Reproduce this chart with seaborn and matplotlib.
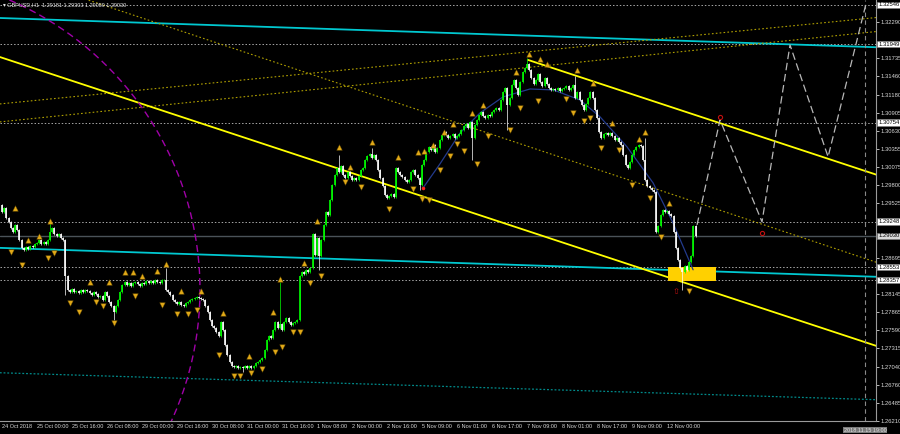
import numpy as np
import pandas as pd
import matplotlib
matplotlib.use('Agg')
import matplotlib.pyplot as plt
import matplotlib.transforms as mtransforms
from matplotlib.patches import Rectangle
import seaborn as sns

# GBPUSD H1 closes, bar 0 = 24 Oct 2018 08:00
closes = [
    1.29395, 1.29456, 1.29304, 1.29243, 1.29152, 1.29091, 1.29197, 1.29122, 1.28969, 1.28847,
    1.28817, 1.28863, 1.28832, 1.28878, 1.28863, 1.28908, 1.28924, 1.28969, 1.28908, 1.28939,
    1.28908, 1.28969, 1.29091, 1.29152, 1.29061, 1.29030, 1.29061, 1.29000, 1.28969, 1.28421,
    1.28208, 1.28178, 1.28224, 1.28178, 1.28193, 1.28163, 1.28208, 1.28178, 1.28208, 1.28193,
    1.28163, 1.28132, 1.28178, 1.28148, 1.28102, 1.28117, 1.28056, 1.28178, 1.28117, 1.28026,
    1.27965, 1.27874, 1.27965, 1.28056, 1.28178, 1.28284, 1.28330, 1.28284, 1.28315, 1.28269,
    1.28315, 1.28330, 1.28299, 1.28269, 1.28315, 1.28299, 1.28345, 1.28315, 1.28345, 1.28315,
    1.28360, 1.28330, 1.28315, 1.28360, 1.28360, 1.28208, 1.28178, 1.28132, 1.28056, 1.28026,
    1.27995, 1.28026, 1.27980, 1.27965, 1.28010, 1.28026, 1.28056, 1.28071, 1.28087, 1.28102,
    1.28087, 1.28071, 1.28056, 1.27965, 1.27874, 1.27752, 1.27660, 1.27630, 1.27569, 1.27508,
    1.27721, 1.27600, 1.27371, 1.27219, 1.27113, 1.27052, 1.27037, 1.27052, 1.27021, 1.27037,
    1.27021, 1.27052, 1.27021, 1.27052, 1.27021, 1.27052, 1.27097, 1.27113, 1.27143, 1.27174,
    1.27295, 1.27447, 1.27508, 1.27478, 1.27600, 1.27721, 1.27630, 1.27691, 1.27600, 1.27721,
    1.27782, 1.27721, 1.27676, 1.27706, 1.27721, 1.27752, 1.28421, 1.28482, 1.28452, 1.28513,
    1.28482, 1.28543, 1.29061, 1.28741, 1.29000, 1.28726, 1.28969, 1.29197, 1.29395, 1.29350,
    1.29578, 1.29806, 1.29958, 1.30065, 1.30004, 1.30095, 1.29958, 1.29913, 1.30004, 1.29943,
    1.29882, 1.29913, 1.29882, 1.29943, 1.30035, 1.30065, 1.30187, 1.30248, 1.30278, 1.30217,
    1.30263, 1.30187, 1.30035, 1.29913, 1.29791, 1.29654, 1.29608, 1.29639, 1.29669, 1.29624,
    1.30065, 1.30004, 1.29958, 1.29928, 1.29882, 1.29852, 1.29882, 1.30004, 1.30035, 1.29958,
    1.29913, 1.29806, 1.30111, 1.30187, 1.30309, 1.30385, 1.30339, 1.30415, 1.30309, 1.30369,
    1.30491, 1.30567, 1.30613, 1.30567, 1.30522, 1.30552, 1.30583, 1.30522, 1.30552, 1.30583,
    1.30643, 1.30704, 1.30735, 1.30674, 1.30765, 1.30522, 1.30720, 1.30796, 1.30872, 1.30917,
    1.30856, 1.30826, 1.30872, 1.30856, 1.30917, 1.30948, 1.30978, 1.30948, 1.31100, 1.31222,
    1.31283, 1.31024, 1.31130, 1.31328, 1.31404, 1.31283, 1.31176, 1.31374, 1.31526, 1.31587,
    1.31648, 1.31557, 1.31435, 1.31344, 1.31404, 1.31496, 1.31374, 1.31313, 1.31435, 1.31344,
    1.31283, 1.31252, 1.31267, 1.31252, 1.31283, 1.31237, 1.31267, 1.31283, 1.31313, 1.31252,
    1.31283, 1.31328, 1.31130, 1.31222, 1.31100, 1.31024, 1.30948, 1.31039, 1.31130, 1.31222,
    1.31130, 1.30948, 1.30826, 1.30613, 1.30522, 1.30583, 1.30598, 1.30567, 1.30598, 1.30552,
    1.30491, 1.30522, 1.30461, 1.30415, 1.30263, 1.30111, 1.30065, 1.30156, 1.30263, 1.30339,
    1.30385, 1.30415, 1.30400, 1.30187, 1.29882, 1.29791, 1.29761, 1.29730, 1.29700, 1.29091,
    1.29182, 1.29350, 1.29426, 1.29395, 1.29411, 1.29365, 1.29334, 1.29091, 1.28847, 1.28665,
    1.28543, 1.28482, 1.28573, 1.28513, 1.28634, 1.28726, 1.29182, 1.29030,
]
first_open = 1.29500
spike_hi = {22: 1.29258, 75: 1.28543, 127: 1.28330, 154: 1.30263, 169: 1.30370,
            240: 1.31739, 262: 1.31465, 294: 1.30522}
spike_lo = {29: 1.28132, 51: 1.27752, 110: 1.26960, 145: 1.28513, 191: 1.29730,
            215: 1.30187, 231: 1.30643, 311: 1.28208}

# fractals (bar, price)
frac_up_bar = [6, 12, 17, 22, 40, 49, 56, 60, 64, 71, 75, 82, 91, 101, 113, 124, 127, 138, 144,
               154, 159, 169, 181, 190, 193, 197, 202, 206, 215, 220, 235, 241, 246, 249, 263,
               270, 279, 291, 294, 305]
frac_up_px = [1.29456, 1.28969, 1.29030, 1.29258, 1.28330, 1.28330, 1.28482, 1.28482, 1.28421,
              1.28497, 1.28604, 1.28193, 1.28193, 1.27858, 1.27204, 1.27874, 1.28376, 1.28619,
              1.29258, 1.30385, 1.30080, 1.30461, 1.30233, 1.30309, 1.30324, 1.30415, 1.30613,
              1.30735, 1.30902, 1.31024, 1.31526, 1.31800, 1.31724, 1.31648, 1.31557, 1.31359,
              1.30750, 1.30507, 1.30613, 1.29532]
frac_dn_bar = [4, 9, 21, 24, 31, 35, 43, 46, 51, 61, 73, 80, 85, 89, 99, 106, 109, 114, 119, 125,
               128, 133, 136, 141, 146, 157, 164, 177, 188, 192, 195, 200, 205, 208, 211, 217,
               222, 232, 237, 245, 258, 261, 266, 269, 274, 282, 288, 296, 301, 314]
frac_dn_px = [1.28787, 1.28589, 1.28695, 1.28771, 1.28010, 1.27874, 1.28026, 1.27965, 1.27706,
              1.28117, 1.27980, 1.27843, 1.27843, 1.27904, 1.27219, 1.26899, 1.26899, 1.26945,
              1.27006, 1.27265, 1.27341, 1.27569, 1.27569, 1.28315, 1.28421, 1.29852, 1.29776,
              1.29441, 1.29746, 1.29593, 1.29578, 1.30035, 1.30248, 1.30430, 1.30324, 1.30126,
              1.30552, 1.30643, 1.30978, 1.31085, 1.31115, 1.30902, 1.30780, 1.30826, 1.30369,
              1.30339, 1.29806, 1.29608, 1.29015, 1.28193]

# regression curve and forecast path (bar, price)
curve_bar = [192.5, 200.2, 209.4, 218.5, 229.0, 241.4, 252.0, 264.2, 273.4, 285.7, 297.6, 306.7, 315.9]
curve_px = [1.29761, 1.30126, 1.30598, 1.30902, 1.31146, 1.31267, 1.31252, 1.31100, 1.30841,
            1.30385, 1.29837, 1.29228, 1.28513]
proj_bar = [317.7, 328.2, 347.4, 360.2, 377.6, 395.0]
proj_px = [1.29197, 1.30796, 1.29243, 1.31937, 1.30233, 1.32576]

# trend lines: (bar0, price0, bar1, price1)
yellow_lines = [(-1, 1.31754, 400, 1.27350), (240.5, 1.31709, 400, 1.29958)]
olive_dotted = [(30, 1.32725, 400, 1.28624), (-1, 1.31039, 400, 1.32356), (-1, 1.30765, 400, 1.32143)]
cyan_lines = [(-1, 1.32348, 400, 1.31902), (-1, 1.28847, 400, 1.28406)]
teal_dotted = [(-1, 1.26945, 400, 1.26534)]

hlines = [1.32546, 1.31949, 1.30754, 1.29248, 1.28553, 1.28357]
bid = 1.29030
yticks = [1.32290, 1.31735, 1.31460, 1.31180, 1.30905, 1.30630, 1.30355, 1.30075,
          1.29800, 1.29525, 1.28695, 1.28145, 1.27865, 1.27590, 1.27315,
          1.27040, 1.26760, 1.26485, 1.26210]
xtick_bars = list(range(0, 305, 16))
xtick_labels = ['24 Oct 2018', '25 Oct 00:00', '25 Oct 16:00', '26 Oct 08:00', '29 Oct 00:00',
                '29 Oct 16:00', '30 Oct 08:00', '31 Oct 00:00', '31 Oct 16:00', '1 Nov 08:00',
                '2 Nov 00:00', '2 Nov 16:00', '5 Nov 09:00', '6 Nov 01:00', '6 Nov 17:00',
                '7 Nov 09:00', '8 Nov 01:00', '8 Nov 17:00', '9 Nov 09:00', '12 Nov 00:00']

# arc: centre bar, centre price, radius in bars, radius in price
arc_c = (-54.0, 1.28208)
arc_r = (144.5, 0.04810)
zone = (304.5, 1.28345, 21.9, 0.00213)
future_bar = 394.5

sns.set_style('dark')
plt.rcParams['font.family'] = ['Liberation Sans Narrow', 'Liberation Sans', 'DejaVu Sans']

df = pd.DataFrame({'close': closes})
df['open'] = [first_open] + closes[:-1]
wick_min = 0.00018
df['high'] = df[['open', 'close']].max(axis=1) + wick_min
df['low'] = df[['open', 'close']].min(axis=1) - wick_min
for k, v in spike_hi.items():
    df.loc[k, 'high'] = v
for k, v in spike_lo.items():
    df.loc[k, 'low'] = v
df['bar'] = np.arange(len(df))
df['up'] = df['close'] >= df['open']

fig = plt.figure(figsize=(9, 4.34), dpi=100, facecolor='black')
ax = fig.add_axes([0, 13 / 434, 876 / 900, 421 / 434])
ax.set_facecolor('black')
ax.set_xlim(-0.91, 399.5)
ax.set_ylim(1.26214, 1.32622)

# levels
for h in hlines:
    ax.axhline(h, color='#a8a8a8', lw=0.7, ls=(0, (1.5, 2)), zorder=1)
ax.axhline(bid, color='#4a5258', lw=1.0, zorder=1)

for b0, p0, b1, p1 in cyan_lines:
    ax.plot([b0, b1], [p0, p1], color='#00c8d0', lw=1.3, zorder=2)
for b0, p0, b1, p1 in teal_dotted:
    ax.plot([b0, b1], [p0, p1], color='#008b8b', lw=0.9, ls=(0, (1.5, 1.5)), zorder=2)
for b0, p0, b1, p1 in olive_dotted:
    ax.plot([b0, b1], [p0, p1], color='#b0a000', lw=0.8, ls=(0, (1.5, 2)), zorder=2)
for b0, p0, b1, p1 in yellow_lines:
    ax.plot([b0, b1], [p0, p1], color='#ffff00', lw=1.3, zorder=2)

t = np.linspace(-np.pi / 2, np.pi / 2, 200)
ax.plot(arc_c[0] + arc_r[0] * np.cos(t), arc_c[1] + arc_r[1] * np.sin(t),
        color='#a000a8', lw=1.0, ls=(0, (5, 3)), zorder=2)

ax.add_patch(Rectangle((zone[0], zone[1]), zone[2], zone[3], facecolor='#ffd000',
                       edgecolor='none', zorder=2))

ax.axvline(future_bar, color='#8a8a8a', lw=0.8, ls=(0, (4, 3)), zorder=2)

# candles
cols = np.where(df['up'], '#00ff00', '#ffffff')
ax.vlines(df['bar'], df['low'], df['high'], colors=cols, lw=0.5, zorder=4)
body_lo = df[['open', 'close']].min(axis=1)
body_hi = np.maximum(df[['open', 'close']].max(axis=1), body_lo + 0.00005)
ax.vlines(df['bar'], body_lo, body_hi, colors=cols, lw=1.2, zorder=4)

# fractals
sns.scatterplot(x=frac_up_bar, y=frac_up_px, marker='^', s=16, color='#e0a818',
                edgecolor='#6a5000', linewidth=0.3, ax=ax, zorder=5)
sns.scatterplot(x=frac_dn_bar, y=frac_dn_px, marker='v', s=16, color='#e0a818',
                edgecolor='#6a5000', linewidth=0.3, ax=ax, zorder=5)

sns.lineplot(x=curve_bar, y=curve_px, color='#233a8c', lw=0.9, ax=ax, zorder=3, sort=False)
ax.plot(proj_bar, proj_px, color='#b8b8b8', lw=0.9, ls=(0, (6, 3)), zorder=3)

ax.plot([192.5], [1.29761], 'o', ms=1.5, color='#ff2020', zorder=6)
ax.plot([328.2, 347.4], [1.30840, 1.29070], 'o', ms=3, mfc='none', mec='#c01010', mew=0.8, zorder=6)
ax.text(308.1, 1.28180, '⇧', color='#c01010', fontsize=6, ha='center', va='center',
        family=['DejaVu Sans'], zorder=6)

# axes styling
for s in ['top', 'left']:
    ax.spines[s].set_visible(False)
for s in ['right', 'bottom']:
    ax.spines[s].set_color('#9a9a9a')
    ax.spines[s].set_linewidth(0.8)
ax.grid(False)

ax.yaxis.tick_right()
ax.set_yticks(yticks)
ax.set_yticklabels([f'{v:.5f}' for v in yticks])
ax.tick_params(axis='y', length=2, width=0.6, pad=1, labelsize=4.2, colors='#d8d8d8')
ax.set_xticks(xtick_bars)
ax.set_xticklabels(xtick_labels)
ax.tick_params(axis='x', direction='in', length=4, width=0.6, pad=2, labelsize=4.0, colors='#d8d8d8')
for lbl in ax.get_xticklabels():
    lbl.set_ha('left')
ax.set_xlabel('')
ax.set_ylabel('')

ytrans = mtransforms.blended_transform_factory(ax.transAxes, ax.transData)
for h in hlines:
    ax.text(1.0025, h, f'{h:.5f}', transform=ytrans, fontsize=4.2, color='black', va='center',
            ha='left', bbox=dict(boxstyle='square,pad=0.12', fc='white', ec='#808080', lw=0.4),
            clip_on=False, zorder=10)
ax.text(1.0025, bid, f'{bid:.5f}', transform=ytrans, fontsize=4.2, color='black', va='center',
        ha='left', bbox=dict(boxstyle='square,pad=0.12', fc='#d8d8d8', ec='#808080', lw=0.4),
        clip_on=False, zorder=10)

xtrans = mtransforms.blended_transform_factory(ax.transData, ax.transAxes)
ax.text(future_bar, -0.016, '2018.11.15 19:00', transform=xtrans, fontsize=4.0, color='#e0e0e0',
        va='top', ha='center', bbox=dict(boxstyle='square,pad=0.12', fc='#7a7a7a', ec='none'),
        clip_on=False, zorder=10)

ax.text(0.003, 0.995, '▾ GBPUSD,H1  1.29181 1.29303 1.29059 1.29030', transform=ax.transAxes,
        fontsize=4.0, color='#e8e8e8', va='top', ha='left', zorder=10)

fig.savefig('out.png', dpi=100, facecolor='black')
